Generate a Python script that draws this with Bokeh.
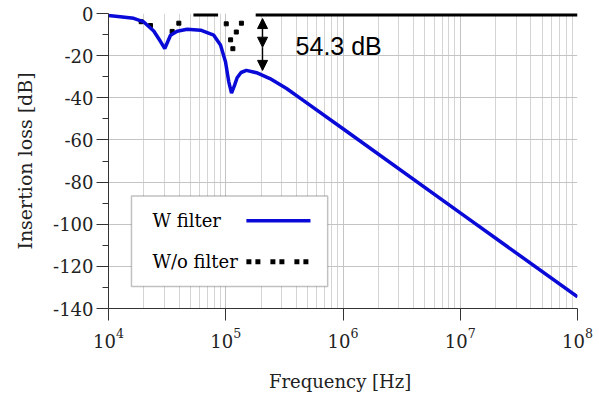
from bokeh.plotting import figure
from bokeh.models import (FixedTicker, LogTickFormatter, CustomJSTickFormatter,
                          Arrow, NormalHead, Label, BoxAnnotation, Range1d)
from bokeh.embed import file_html
from bokeh.resources import INLINE

# ---- data -------------------------------------------------------------
# With filter (blue)
w_freq = [1.00e4, 1.26e4, 1.64e4, 2.00e4, 2.43e4, 2.77e4, 3.02e4, 3.38e4,
          3.85e4, 4.69e4, 6.10e4, 7.90e4, 9.02e4, 9.95e4, 1.06e5, 1.12e5,
          1.19e5, 1.25e5, 1.35e5, 1.50e5, 1.83e5, 2.38e5, 3.30e5, 4.58e5,
          1.00e6, 1.00e7, 1.00e8]
w_db = [-1.0, -1.5, -2.3, -4.0, -8.3, -13.2, -16.6, -10.3,
        -8.4, -7.5, -7.9, -10.3, -15.0, -22.9, -32.3, -37.8,
        -34.0, -30.5, -28.0, -27.0, -28.1, -30.9, -35.6, -41.2,
        -54.7, -94.6, -134.5]

# Without filter (black, sampled points)
wo_freq = [1.90e4, 2.28e4, 3.49e4, 3.98e4,
           1.01e5, 1.10e5, 1.15e5, 1.23e5, 1.36e5]
wo_db = [-3.9, -5.7, -8.5, -4.6,
         -4.9, -12.5, -16.7, -8.8, -4.6]
# Without filter, flat stretches near 0 dB
wo_flat_start = [5.3e4, 1.80e5]
wo_flat_end = [8.6e4, 1.00e8]
wo_flat_db = [-0.6, -0.6]

x_major = [1e4, 1e5, 1e6, 1e7, 1e8]
y_major = [-140, -120, -100, -80, -60, -40, -20, 0]
y_minor = [-130, -110, -90, -70, -50, -30, -10]

# ---- figure -----------------------------------------------------------
SERIF = "DejaVu Serif"

p = figure(width=599, height=394, x_axis_type="log",
           x_range=Range1d(1e4, 1e8), y_range=Range1d(-140, 0),
           output_backend="svg", toolbar_location=None,
           min_border_left=108, min_border_right=22,
           min_border_top=13, min_border_bottom=85)
p.outline_line_color = None
p.background_fill_color = "white"
p.border_fill_color = "white"

x_minor = [k * 10 ** n for n in range(4, 8) for k in range(2, 10)]
p.xaxis.ticker = FixedTicker(ticks=x_major, minor_ticks=x_minor)
p.xaxis.formatter = LogTickFormatter()
p.yaxis.ticker = FixedTicker(ticks=y_major, minor_ticks=y_minor)
p.yaxis.formatter = CustomJSTickFormatter(code="return tick.toFixed(0);")

for ax in (p.xaxis, p.yaxis):
    ax.axis_line_color = "#333333"
    ax.axis_line_width = 1
    ax.major_tick_line_color = "#333333"
    ax.minor_tick_line_color = "#333333"
    ax.major_tick_in = 0
    ax.minor_tick_in = 0
    ax.major_label_text_font = SERIF
    ax.major_label_text_font_size = "18px"
    ax.major_label_text_color = "#222222"
    ax.axis_label_text_font = SERIF
    ax.axis_label_text_font_size = "18px"
    ax.axis_label_text_font_style = "normal"
    ax.axis_label_text_color = "#222222"

p.yaxis.axis_label_text_font_size = "19px"
p.xaxis.major_tick_out = 12
p.xaxis.minor_tick_out = 0
p.yaxis.major_tick_out = 12
p.yaxis.minor_tick_out = 6
p.xaxis.major_label_standoff = 7
p.yaxis.major_label_standoff = 3
p.xaxis.axis_label = "Frequency  [Hz]"
p.yaxis.axis_label = "Insertion loss [dB]"
p.xaxis.axis_label_standoff = 20
p.yaxis.axis_label_standoff = 14

p.xgrid.grid_line_color = "#c4c4c4"
p.xgrid.minor_grid_line_color = "#d4d4d4"
p.ygrid.grid_line_color = "#c4c4c4"

# ---- series -----------------------------------------------------------
p.scatter(wo_freq, wo_db, marker="square", size=4, color="black")
p.segment(x0=wo_flat_start, y0=wo_flat_db, x1=wo_flat_end, y1=wo_flat_db,
          line_color="black", line_width=3.5)
p.line(w_freq, w_db, line_color="#0a0ad8", line_width=3.5)

# ---- annotation: arrow & text ----------------------------------------
p.add_layout(Arrow(start=NormalHead(size=10, fill_color="black", line_color="black"),
                   end=NormalHead(size=10, fill_color="black", line_color="black"),
                   x_start=2.06e5, y_start=-16, x_end=2.06e5, y_end=-2.4,
                   line_color="black", line_width=1.3))
p.add_layout(Arrow(end=NormalHead(size=10, fill_color="black", line_color="black"),
                   x_start=2.06e5, y_start=-16, x_end=2.06e5, y_end=-27,
                   line_color="black", line_width=1.3))
p.add_layout(Label(x=3.94e5, y=-15.6, text="54.3 dB", text_baseline="middle",
                   text_font="Liberation Sans", text_font_size="25px",
                   text_color="black"))

# ---- legend (label left, sample right) --------------------------------
p.add_layout(BoxAnnotation(left=1.57e4, right=7.4e5, top=-86.6, bottom=-129.6,
                           fill_color="white", fill_alpha=1.0,
                           line_color="#333333", line_width=1.5))
p.add_layout(Label(x=2.37e4, y=-98.4, text="W filter", text_baseline="middle",
                   text_font=SERIF, text_font_size="18px", text_color="black"))
p.add_layout(Label(x=2.37e4, y=-117.8, text="W/o filter", text_baseline="middle",
                   text_font=SERIF, text_font_size="18px", text_color="black"))
p.add_layout(Arrow(end=None, x_start=1.50e5, y_start=-98.4, x_end=5.28e5, y_end=-98.4,
                   line_color="#0a0ad8", line_width=3.5))
p.add_layout(Arrow(end=None, x_start=1.50e5, y_start=-117.8, x_end=5.28e5, y_end=-117.8,
                   line_color="black", line_width=5, line_dash="5 4 5 10"))

open("out.html", "w").write(file_html(p, INLINE))
